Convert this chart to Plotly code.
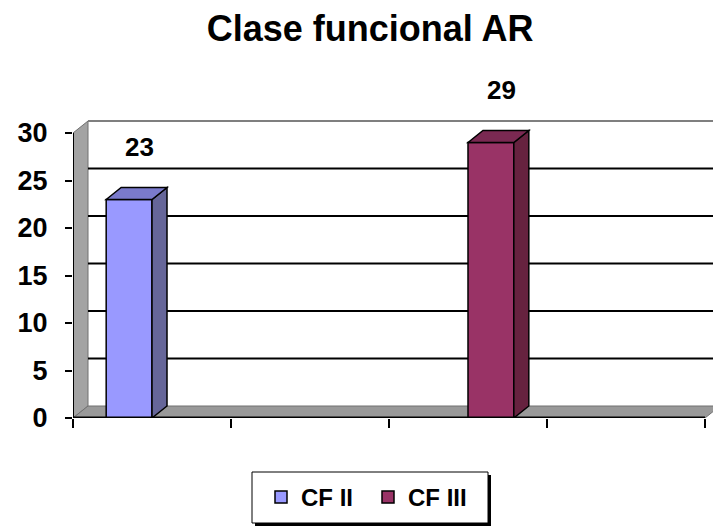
import plotly.graph_objects as go

# Chart data
categories = [0, 1, 2, 3]
series_names = ["CF II", "CF III"]
cf_ii = [23, None, None, None]
cf_iii = [None, None, 29, None]
y_ticks = [0, 5, 10, 15, 20, 25, 30]

front_colors = ["#9999FF", "#993366"]
side_colors = ["#666699", "#66223F"]
top_colors = ["#7A7ACC", "#7A2952"]

FONT = "Liberation Sans, Arial, sans-serif"

# Figure / plot-area geometry (pixels)
W, H = 713, 527
M_L, M_R, M_T, M_B = 73, 0, 113, 109
PLOT_W = W - M_L - M_R
PLOT_H = H - M_T - M_B
PX_PER_CAT = 158.0
PX_PER_UNIT = 9.5
X_RANGE = [-0.5, -0.5 + PLOT_W / PX_PER_CAT]
Y_RANGE = [0, PLOT_H / PX_PER_UNIT]
Y0_PX = H - M_B  # pixel row of the front floor edge


def px_to_paper_x(px):
    return (px - M_L) / PLOT_W


def px_to_paper_y(py):
    return (Y0_PX - py) / PLOT_H


# 3-D depth offset converted to data units
DX = 15 / PX_PER_CAT
DY = 12 / PX_PER_UNIT
BAR_W = 0.29
offsets = [-BAR_W, 0.0]

x_lo, x_hi = -0.5, 3.5
y_top = max(y_ticks)

fig = go.Figure()

shapes = []


def poly(pts, fill, line="#666666", lw=1, layer="below"):
    d = "M " + " L ".join(f"{x},{y}" for x, y in pts) + " Z"
    return dict(type="path", path=d, xref="x", yref="y", fillcolor=fill,
                line=dict(color=line, width=lw), layer=layer)


# left wall and floor
shapes.append(poly([(x_lo, 0), (x_lo, y_top), (x_lo + DX, y_top + DY), (x_lo + DX, DY)],
                   "#A3A3A3", "#707070", 1))
shapes.append(poly([(x_lo, 0), (x_hi, 0), (x_hi + DX, DY), (x_lo + DX, DY)],
                   "#999999", "#707070", 1))

# back-wall gridlines
for v in y_ticks[1:]:
    shapes.append(dict(type="line", xref="x", yref="y", x0=x_lo + DX, x1=X_RANGE[1] + 1,
                       y0=v + DY, y1=v + DY, layer="below",
                       line=dict(color="#000000" if v < y_top else "#7F7F7F", width=2)))

# side and top faces of each column
for s, vals in enumerate([cf_ii, cf_iii]):
    for c, v in zip(categories, vals):
        if v is None:
            continue
        x0 = c + offsets[s]
        x1 = x0 + BAR_W
        shapes.append(poly([(x1, 0), (x1 + DX, DY), (x1 + DX, v + DY), (x1, v)],
                           side_colors[s], "#000000", 1.5, "above"))
        shapes.append(poly([(x0, v), (x0 + DX, v + DY), (x1 + DX, v + DY), (x1, v)],
                           top_colors[s], "#000000", 1.5, "above"))

# front axis lines
shapes.append(dict(type="line", xref="x", yref="y", x0=x_lo, x1=x_lo, y0=0, y1=y_top,
                   line=dict(color="#000000", width=2), layer="above"))
shapes.append(dict(type="line", xref="x", yref="y", x0=x_lo, x1=x_hi, y0=0, y1=0,
                   line=dict(color="#000000", width=3), layer="above"))

# legend frame with drop shadow
LEG_L, LEG_R, LEG_T, LEG_B = 252, 488, 472, 523
SH = 3
shapes.append(dict(type="rect", xref="paper", yref="paper",
                   x0=px_to_paper_x(LEG_L + SH), x1=px_to_paper_x(LEG_R + SH),
                   y0=px_to_paper_y(LEG_T + SH), y1=px_to_paper_y(LEG_B + SH),
                   fillcolor="#000000", line=dict(width=0), layer="above"))
shapes.append(dict(type="rect", xref="paper", yref="paper",
                   x0=px_to_paper_x(LEG_L), x1=px_to_paper_x(LEG_R),
                   y0=px_to_paper_y(LEG_T), y1=px_to_paper_y(LEG_B),
                   fillcolor="#FFFFFF", line=dict(color="#000000", width=1), layer="above"))

for s, vals in enumerate([cf_ii, cf_iii]):
    fig.add_trace(go.Bar(
        x=categories, y=vals, name=series_names[s], width=BAR_W, offset=offsets[s],
        marker=dict(color=front_colors[s], line=dict(color="#000000", width=1.5)),
        hoverinfo="skip",
    ))

# value labels above each column
annotations = []
for s, vals in enumerate([cf_ii, cf_iii]):
    for c, v in zip(categories, vals):
        if v is None:
            continue
        annotations.append(dict(
            x=c + offsets[s] + BAR_W / 2 + DX * 0.7, y=v + DY, xref="x", yref="y",
            text=f"<b>{v}</b>", showarrow=False, yanchor="bottom", yshift=24,
            font=dict(family=FONT, size=26, color="#000000")))

fig.update_layout(
    width=W, height=H,
    margin=dict(l=M_L, r=M_R, t=M_T, b=M_B),
    paper_bgcolor="#FFFFFF", plot_bgcolor="#FFFFFF",
    barmode="overlay",
    title=dict(text="<b>Clase funcional AR</b>", x=0.519, xref="container", xanchor="center",
               y=1 - 28 / H, yref="container", yanchor="middle",
               font=dict(family=FONT, size=36, color="#000000")),
    xaxis=dict(range=X_RANGE, tickvals=[x_lo + i for i in range(5)], showticklabels=False,
               ticks="outside", ticklen=9, tickwidth=2, tickcolor="#000000",
               showgrid=False, zeroline=False, showline=False, fixedrange=True),
    yaxis=dict(range=Y_RANGE, tickvals=y_ticks, ticks="outside", ticklen=7, tickwidth=2,
               tickcolor="#000000", ticklabelstandoff=12,
               tickfont=dict(family=FONT, size=27, color="#000000", weight="bold"),
               showgrid=False, zeroline=False, showline=False, fixedrange=True),
    shapes=shapes,
    annotations=annotations,
    showlegend=True,
    legend=dict(orientation="h", x=px_to_paper_x(261), xanchor="left",
                y=px_to_paper_y((LEG_T + LEG_B) / 2), yanchor="middle",
                bgcolor="rgba(0,0,0,0)", borderwidth=0, entrywidth=62,
                font=dict(family=FONT, size=24, color="#000000", weight="bold")),
)

fig.write_html("out.html")
